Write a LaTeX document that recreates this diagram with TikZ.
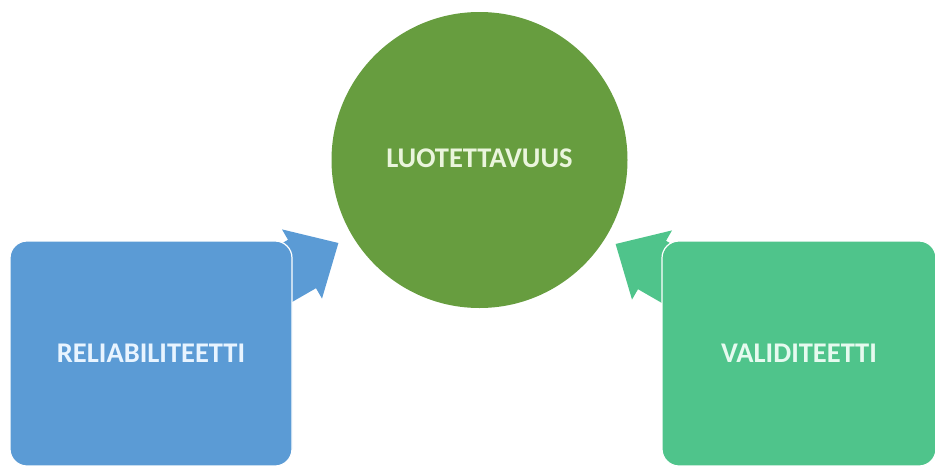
\documentclass[tikz,border=0pt]{standalone}
\usepackage{fontspec}
\setmainfont{Carlito}
\definecolor{circgreen}{HTML}{679D3F}
\definecolor{boxblue}{HTML}{5B9BD5}
\definecolor{boxteal}{HTML}{4FC48B}
\definecolor{txtgreen}{HTML}{EAF5DC}
\definecolor{txtblue}{HTML}{E8F4FF}
\definecolor{txtteal}{HTML}{E6FAEF}
\begin{document}
\begin{tikzpicture}[x=1pt,y=-1pt,
  labeltext/.style={font=\fontsize{28.5}{31}\selectfont\bfseries},
  sidebox/.style={rectangle, rounded corners=17pt, draw=white, line width=1.2pt,
    minimum width=282pt, minimum height=225pt, inner sep=0pt},
  blockarrow/.style={draw=none}]
\useasboundingbox (0,0) rectangle (935,466);
% arrows (behind boxes)
\fill[boxblue, blockarrow] (236,269.8) -- (288,239.8) -- (282,229.4) -- (338.4,243) -- (322,298.6) -- (316,288.2) -- (264,318.2) -- cycle;
\fill[boxteal, blockarrow] (718,270.8) -- (666,240.8) -- (672,230.4) -- (615.6,244) -- (632,299.6) -- (638,289.2) -- (690,319.2) -- cycle;
% boxes
\node[sidebox, fill=boxblue, text=txtblue, labeltext] (rel) at (151,353.5) {RELIABILITEETTI};
\node[sidebox, fill=boxteal, text=txtteal, labeltext, minimum width=274pt] (val) at (799,353.5) {VALIDITEETTI};
% circle
\node[circle, fill=circgreen, minimum size=296pt, inner sep=0pt] (luo) at (479.5,160) {};
\node[text=txtgreen, labeltext] (luotxt) at (479.5,158) {LUOTETTAVUUS};
\end{tikzpicture}
\end{document}
